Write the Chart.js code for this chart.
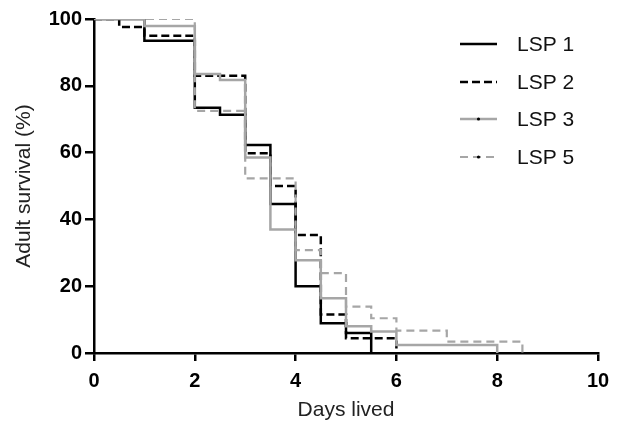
<!DOCTYPE html>
<html>
<head>
<meta charset="utf-8">
<script src="https://cdn.jsdelivr.net/npm/chart.js@4.4.1/dist/chart.umd.min.js"></script>
<style>
  html, body { margin: 0; padding: 0; background: #fff; }
  #c { display: block; }
</style>
</head>
<body>
<canvas id="c" width="619" height="427"></canvas>
<script>
// Kaplan-Meier step data (time in days, survival %)
const seriesNames = ['LSP 1', 'LSP 2', 'LSP 3', 'LSP 5'];
const lsp1Times = [0, 1, 2, 2.5, 3, 3.5, 4, 4.5, 5, 5.5];
const lsp1Surv  = [100, 93.5, 73.4, 71.3, 62.3, 44.6, 20, 8.9, 6, 0];
const lsp2Times = [0, 0.5, 1, 2, 3, 3.5, 4, 4.5, 5, 6];
const lsp2Surv  = [100, 97.6, 95, 83, 59.8, 50, 35.3, 11.5, 4.4, 0];
const lsp3Times = [0, 1, 2, 2.5, 3, 3.5, 4, 4.5, 5, 5.5, 6, 8];
const lsp3Surv  = [100, 97.9, 83.5, 81.7, 58.5, 37, 27.8, 16.4, 8, 6.4, 2.4, 0];
const lsp5Times = [0, 2, 3, 4, 4.5, 5, 5.5, 6, 7, 8.5];
const lsp5Surv  = [100, 72.5, 52.3, 30.8, 23.9, 13.9, 10.4, 6.7, 3.4, 0];
const xTicks = [0, 2, 4, 6, 8, 10];
const yTicks = [0, 20, 40, 60, 80, 100];

const toPts = (t, s) => t.map((x, i) => ({ x: x, y: s[i] }));
const GRAY = '#a6a6a6';
const FONT = '"Liberation Sans", Arial, sans-serif';

const styles = [
  { color: '#000', dash: [], width: 2.5, order: 4, dot: false },
  { color: '#000', dash: [8, 4], width: 2.5, order: 3, dot: false },
  { color: GRAY, dash: [], width: 2.5, order: 2, dot: true },
  { color: GRAY, dash: [8, 5], width: 2.2, order: 1, dot: true }
];
const allData = [toPts(lsp1Times, lsp1Surv), toPts(lsp2Times, lsp2Surv), toPts(lsp3Times, lsp3Surv), toPts(lsp5Times, lsp5Surv)];

const datasets = allData.map((d, i) => ({
  label: seriesNames[i],
  data: d,
  stepped: true,
  borderColor: styles[i].color,
  borderDash: styles[i].dash,
  borderWidth: styles[i].width,
  pointRadius: 0,
  fill: false,
  order: styles[i].order,
  borderCapStyle: 'butt',
  borderJoinStyle: 'miter'
}));

const legendPlugin = {
  id: 'insideLegend',
  afterDatasetsDraw(chart) {
    const ctx = chart.ctx;
    const x0 = 460, x1 = 497, tx = 517;
    const ys = [44, 82, 119, 157];
    ctx.save();
    chart.data.datasets.forEach((ds, i) => {
      const y = ys[i];
      ctx.beginPath();
      ctx.setLineDash(styles[i].dash);
      ctx.lineWidth = styles[i].width;
      ctx.strokeStyle = styles[i].color;
      ctx.moveTo(x0, y);
      ctx.lineTo(x1, y);
      ctx.stroke();
      ctx.setLineDash([]);
      if (styles[i].dot) {
        ctx.beginPath();
        ctx.fillStyle = '#000';
        ctx.arc((x0 + x1) / 2, y, 1.6, 0, Math.PI * 2);
        ctx.fill();
      }
      ctx.fillStyle = '#111';
      ctx.font = '21px ' + FONT;
      ctx.textBaseline = 'middle';
      ctx.textAlign = 'left';
      ctx.fillText(ds.label, tx, y + 1);
    });
    ctx.restore();
  }
};

new Chart(document.getElementById('c'), {
  type: 'line',
  data: { datasets: datasets },
  options: {
    responsive: false,
    animation: false,
    layout: { padding: { top: 19, right: 21, left: 0, bottom: 0 } },
    plugins: { legend: { display: false }, tooltip: { enabled: false } },
    scales: {
      x: {
        type: 'linear',
        min: 0, max: 10,
        afterBuildTicks: (s) => { s.ticks = xTicks.map(v => ({ value: v })); },
        afterFit: (s) => { s.height = 74; },
        ticks: { color: '#000', font: { family: FONT, size: 20, weight: 'bold' }, padding: 8, maxRotation: 0 },
        grid: { drawOnChartArea: false, drawTicks: true, tickLength: 8, color: '#000', lineWidth: 2.5 },
        border: { display: true, color: '#000', width: 2.5 },
        title: { display: true, text: 'Days lived', color: '#222', font: { family: FONT, size: 21 }, padding: { top: 0, bottom: 4 } }
      },
      y: {
        type: 'linear',
        min: 0, max: 100,
        afterBuildTicks: (s) => { s.ticks = yTicks.map(v => ({ value: v })); },
        afterFit: (s) => { s.width = 94; },
        ticks: { color: '#000', font: { family: FONT, size: 20, weight: 'bold' }, padding: 3 },
        grid: { drawOnChartArea: false, drawTicks: true, tickLength: 9, color: '#000', lineWidth: 2.5 },
        border: { display: true, color: '#000', width: 2.5 },
        title: { display: true, text: 'Adult survival (%)', color: '#222', font: { family: FONT, size: 21 }, padding: { top: 12, bottom: 0 } }
      }
    }
  },
  plugins: [legendPlugin]
});
</script>
</body>
</html>
